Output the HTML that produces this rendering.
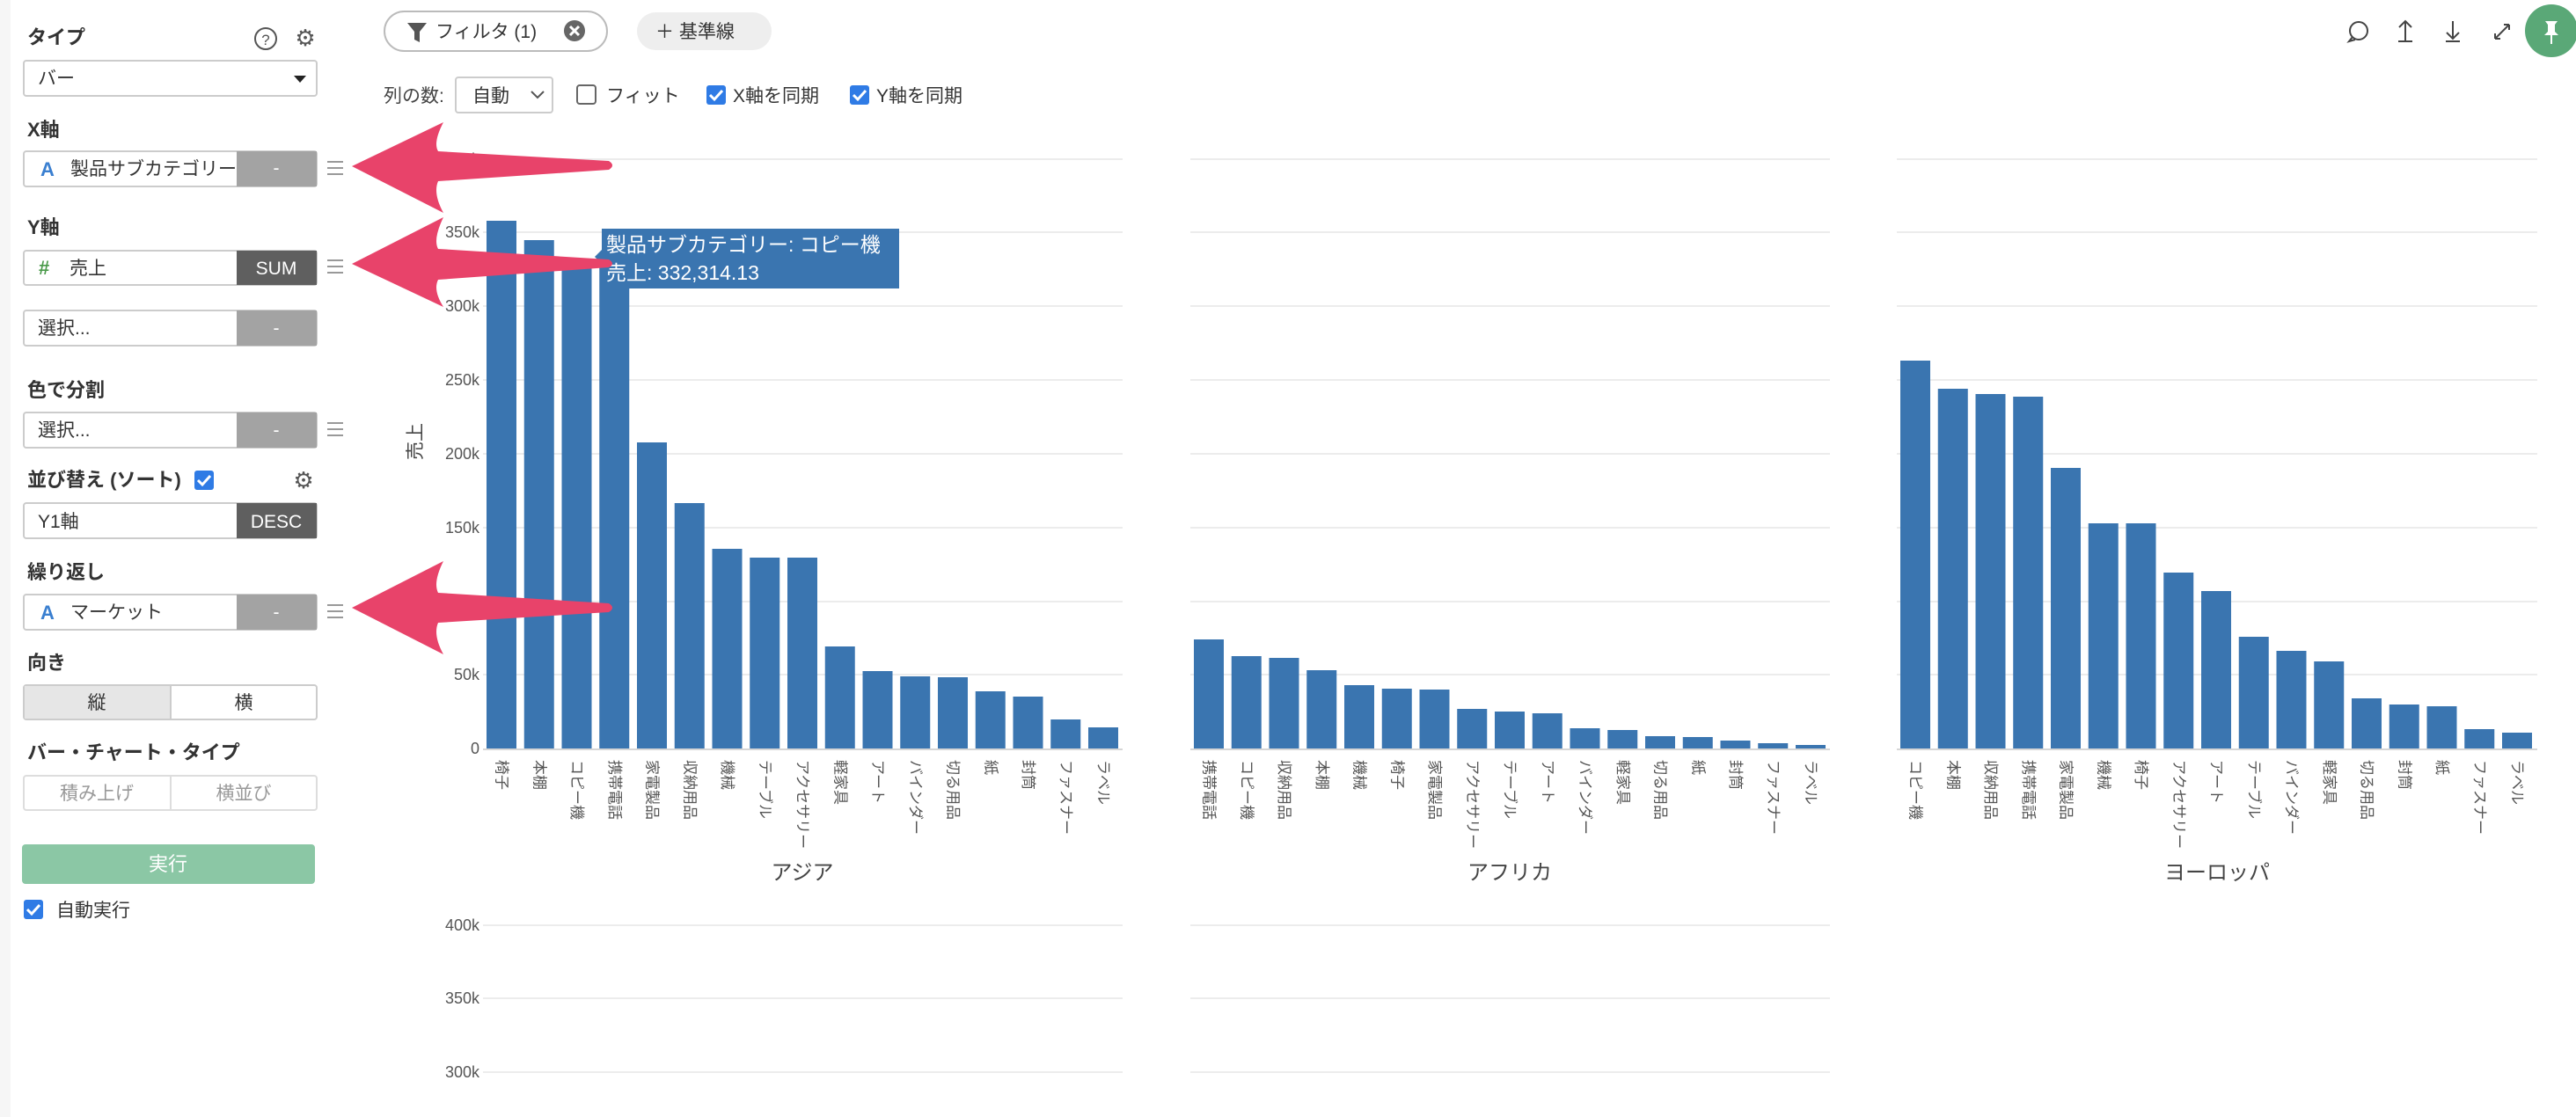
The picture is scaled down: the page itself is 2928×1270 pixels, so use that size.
<!DOCTYPE html>
<html><head><meta charset="utf-8"><style>
html,body{margin:0;padding:0;background:#fff;width:2928px;height:1270px;overflow:hidden}
svg{display:block;font-family:"Liberation Sans","Noto Sans CJK JP",sans-serif}
</style></head><body>
<svg width="2928" height="1270" viewBox="0 0 2928 1270" xmlns="http://www.w3.org/2000/svg">
<defs><clipPath id="cx"><rect x="27" y="172" width="242" height="40"/></clipPath></defs>
<rect x="0" y="0" width="12" height="1270" fill="#f6f6f6"/>
<g font-size="21" fill="#333">
<text x="31" y="50" font-weight="bold" font-size="22">タイプ</text>
<circle cx="302" cy="44" r="12" fill="none" stroke="#555" stroke-width="2"/><text x="302" y="51" font-size="17" text-anchor="middle" fill="#555">?</text>
<text x="347" y="52" font-size="26" text-anchor="middle" fill="#555">⚙</text>
<rect x="27" y="69" width="333" height="40" rx="3" fill="#fff" stroke="#ccc" stroke-width="2"/>
<text x="43" y="96">バー</text><path d="M334 86 L348 86 L341 94 Z" fill="#222"/>
<text x="31" y="155" font-weight="bold" font-size="22">X軸</text>
<rect x="27" y="172" width="333" height="40" rx="3" fill="#fff" stroke="#ccc" stroke-width="2"/>
<text x="46" y="200" fill="#3a7fd0" font-weight="bold" font-size="22">A</text>
<text x="80" y="199" clip-path="url(#cx)">製品サブカテゴリー</text>
<rect x="269" y="172" width="91" height="40" fill="#a3a3a3"/>
<text x="314" y="198" fill="#fff" text-anchor="middle">-</text>
<g stroke="#999" stroke-width="2"><path d="M372 184h18M372 191h18M372 198h18"/></g>
<text x="31" y="266" font-weight="bold" font-size="22">Y軸</text>
<rect x="27" y="285" width="333" height="39" rx="3" fill="#fff" stroke="#ccc" stroke-width="2"/>
<rect x="269" y="285" width="91" height="39" fill="#5f5f5f"/>
<text x="44" y="312" fill="#4a9a4a" font-weight="bold" font-size="22">#</text>
<text x="79" y="312">売上</text>
<text x="314" y="312" fill="#fff" text-anchor="middle">SUM</text>
<g stroke="#999" stroke-width="2"><path d="M372 296h18M372 303h18M372 310h18"/></g>
<rect x="27" y="353" width="333" height="40" rx="3" fill="#fff" stroke="#ccc" stroke-width="2"/>
<rect x="269" y="353" width="91" height="40" fill="#a3a3a3"/>
<text x="43" y="380">選択...</text><text x="314" y="380" fill="#fff" text-anchor="middle">-</text>
<text x="31" y="451" font-weight="bold" font-size="22">色で分割</text>
<rect x="27" y="469" width="333" height="40" rx="3" fill="#fff" stroke="#ccc" stroke-width="2"/>
<rect x="269" y="469" width="91" height="40" fill="#a3a3a3"/>
<text x="43" y="496">選択...</text><text x="314" y="496" fill="#fff" text-anchor="middle">-</text>
<g stroke="#999" stroke-width="2"><path d="M372 481h18M372 488h18M372 495h18"/></g>
<text x="31" y="553" font-weight="bold" font-size="22">並び替え (ソート)</text>
<rect x="221" y="535" width="22" height="22" rx="3" fill="#2f7be5"/><path d="M225 546l5 5 9-10" stroke="#fff" stroke-width="3" fill="none"/>
<text x="345" y="555" font-size="26" text-anchor="middle" fill="#555">⚙</text>
<rect x="27" y="572" width="333" height="40" rx="3" fill="#fff" stroke="#ccc" stroke-width="2"/>
<rect x="269" y="572" width="91" height="40" fill="#5f5f5f"/>
<text x="43" y="600">Y1軸</text><text x="314" y="600" fill="#fff" text-anchor="middle">DESC</text>
<text x="31" y="658" font-weight="bold" font-size="22">繰り返し</text>
<rect x="27" y="676" width="333" height="40" rx="3" fill="#fff" stroke="#ccc" stroke-width="2"/>
<rect x="269" y="676" width="91" height="40" fill="#a3a3a3"/>
<text x="46" y="704" fill="#3a7fd0" font-weight="bold" font-size="22">A</text>
<text x="80" y="703">マーケット</text><text x="314" y="703" fill="#fff" text-anchor="middle">-</text>
<g stroke="#999" stroke-width="2"><path d="M372 688h18M372 695h18M372 702h18"/></g>
<text x="31" y="761" font-weight="bold" font-size="22">向き</text>
<rect x="27" y="779" width="333" height="39" rx="3" fill="#fff" stroke="#ccc" stroke-width="2"/>
<rect x="28" y="780" width="166" height="37" fill="#e6e6e6"/><line x1="194" y1="779" x2="194" y2="818" stroke="#ccc" stroke-width="2"/>
<text x="110" y="806" text-anchor="middle">縦</text><text x="277" y="806" text-anchor="middle">横</text>
<text x="31" y="863" font-weight="bold" font-size="22">バー・チャート・タイプ</text>
<rect x="27" y="882" width="333" height="39" rx="3" fill="#fff" stroke="#ddd" stroke-width="2"/>
<line x1="194" y1="882" x2="194" y2="921" stroke="#ddd" stroke-width="2"/>
<text x="110" y="909" text-anchor="middle" fill="#999">積み上げ</text><text x="277" y="909" text-anchor="middle" fill="#999">横並び</text>
<rect x="25" y="960" width="333" height="45" rx="4" fill="#8bc7a5"/>
<text x="191" y="990" text-anchor="middle" fill="#fff" font-size="22">実行</text>
<rect x="27" y="1023" width="22" height="22" rx="3" fill="#2f7be5"/><path d="M31 1034l5 5 9-10" stroke="#fff" stroke-width="3" fill="none"/>
<text x="64" y="1042">自動実行</text>
</g>
<g font-size="21" fill="#333">
<rect x="437" y="13" width="253" height="45" rx="22.5" fill="#fff" stroke="#bbb" stroke-width="2"/>
<path d="M463 26h22l-8 10v12l-6-3v-9z" fill="#555"/>
<text x="495" y="43">フィルタ (1)</text>
<circle cx="653" cy="35" r="12" fill="#666"/><path d="M648 30l10 10M658 30l-10 10" stroke="#fff" stroke-width="3"/>
<rect x="724" y="14" width="153" height="43" rx="21.5" fill="#eeeeee"/>
<text x="745" y="43">＋ 基準線</text>
<text x="436" y="116" fill="#444">列の数:</text>
<rect x="518" y="88" width="110" height="40" rx="3" fill="#fff" stroke="#ccc" stroke-width="2"/>
<text x="537" y="116">自動</text><path d="M604 104l7 7 7-7" stroke="#555" stroke-width="2" fill="none"/>
<rect x="656" y="97" width="21" height="21" rx="3" fill="#fff" stroke="#666" stroke-width="2"/>
<text x="689" y="116">フィット</text>
<rect x="803" y="97" width="22" height="22" rx="3" fill="#2f7be5"/><path d="M807 108l5 5 9-10" stroke="#fff" stroke-width="3" fill="none"/>
<text x="833" y="116">X軸を同期</text>
<rect x="966" y="97" width="22" height="22" rx="3" fill="#2f7be5"/><path d="M970 108l5 5 9-10" stroke="#fff" stroke-width="3" fill="none"/>
<text x="996" y="116">Y軸を同期</text>
</g>
<g stroke="#444" stroke-width="2" fill="none">
<circle cx="2681" cy="35" r="10"/><path d="M2674 42l-4 5 7-2"/>
<path d="M2734 24v22M2727 31l7-7 7 7M2726 47h16"/>
<path d="M2788 24v20M2781 37l7 7 7-7M2780 47h16"/>
<path d="M2836 44l16-16M2836 44v-6M2836 44h6M2852 28h-6M2852 28v6"/>
</g>
<circle cx="2900" cy="35" r="30" fill="#5aa877"/>
<path d="M2893 24h14l-3 4v8l4 4h-16l4-4v-8z M2899 40h2v10h-2z" fill="#fff"/>
<g stroke="#ececec" stroke-width="2">
<path d="M549 181H1276M549 264H1276M549 348H1276M549 432H1276M549 516H1276M549 600H1276M549 684H1276M549 767H1276"/>
<path d="M1353 181H2080M1353 264H2080M1353 348H2080M1353 432H2080M1353 516H2080M1353 600H2080M1353 684H2080M1353 767H2080"/>
<path d="M2156 181H2884M2156 264H2884M2156 348H2884M2156 432H2884M2156 516H2884M2156 600H2884M2156 684H2884M2156 767H2884"/>
<path d="M549 1052H1276M549 1135H1276M549 1219H1276M1353 1052H2080M1353 1135H2080M1353 1219H2080"/>
</g>
<g stroke="#d6d6d6" stroke-width="2"><path d="M549 852H1276M1353 852H2080M2156 852H2884"/></g>
<g font-size="18" fill="#555" text-anchor="end">
<text x="545" y="187">400k</text><text x="545" y="270">350k</text><text x="545" y="354">300k</text><text x="545" y="438">250k</text><text x="545" y="522">200k</text><text x="545" y="606">150k</text><text x="545" y="690">100k</text><text x="545" y="773">50k</text><text x="545" y="857">0</text>
<text x="545" y="1058">400k</text><text x="545" y="1141">350k</text><text x="545" y="1225">300k</text>
</g>
<text transform="translate(479,502) rotate(-90)" font-size="21" fill="#444" text-anchor="middle">売上</text>
<g fill="#3a75b0">
<rect x="553" y="251" width="34" height="600"/><rect x="595.75" y="273" width="34" height="578"/><rect x="638.5" y="294" width="34" height="557"/><rect x="681.25" y="300" width="34" height="551"/><rect x="724" y="503" width="34" height="348"/><rect x="766.75" y="572" width="34" height="279"/><rect x="809.5" y="624" width="34" height="227"/><rect x="852.25" y="634" width="34" height="217"/><rect x="895" y="634" width="34" height="217"/><rect x="937.75" y="735" width="34" height="116"/><rect x="980.5" y="763" width="34" height="88"/><rect x="1023.25" y="769" width="34" height="82"/><rect x="1066" y="770" width="34" height="81"/><rect x="1108.75" y="786" width="34" height="65"/><rect x="1151.5" y="792" width="34" height="59"/><rect x="1194.25" y="818" width="34" height="33"/><rect x="1237" y="827" width="34" height="24"/>
<rect x="1357" y="727" width="34" height="124"/><rect x="1399.75" y="746" width="34" height="105"/><rect x="1442.5" y="748" width="34" height="103"/><rect x="1485.25" y="762" width="34" height="89"/><rect x="1528" y="779" width="34" height="72"/><rect x="1570.75" y="783" width="34" height="68"/><rect x="1613.5" y="784" width="34" height="67"/><rect x="1656.25" y="806" width="34" height="45"/><rect x="1699" y="809" width="34" height="42"/><rect x="1741.75" y="811" width="34" height="40"/><rect x="1784.5" y="828" width="34" height="23"/><rect x="1827.25" y="830" width="34" height="21"/><rect x="1870" y="837" width="34" height="14"/><rect x="1912.75" y="838" width="34" height="13"/><rect x="1955.5" y="842" width="34" height="9"/><rect x="1998.25" y="845" width="34" height="6"/><rect x="2041" y="847" width="34" height="4"/>
<rect x="2160" y="410" width="34" height="441"/><rect x="2202.75" y="442" width="34" height="409"/><rect x="2245.5" y="448" width="34" height="403"/><rect x="2288.25" y="451" width="34" height="400"/><rect x="2331" y="532" width="34" height="319"/><rect x="2373.75" y="595" width="34" height="256"/><rect x="2416.5" y="595" width="34" height="256"/><rect x="2459.25" y="651" width="34" height="200"/><rect x="2502" y="672" width="34" height="179"/><rect x="2544.75" y="724" width="34" height="127"/><rect x="2587.5" y="740" width="34" height="111"/><rect x="2630.25" y="752" width="34" height="99"/><rect x="2673" y="794" width="34" height="57"/><rect x="2715.75" y="801" width="34" height="50"/><rect x="2758.5" y="803" width="34" height="48"/><rect x="2801.25" y="829" width="34" height="22"/><rect x="2844" y="833" width="34" height="18"/>
</g>
<g font-size="17" fill="#555" dominant-baseline="central">
<text transform="translate(570,864) rotate(90)">椅子</text><text transform="translate(612.75,864) rotate(90)">本棚</text><text transform="translate(655.5,864) rotate(90)">コピー機</text><text transform="translate(698.25,864) rotate(90)">携帯電話</text><text transform="translate(741,864) rotate(90)">家電製品</text><text transform="translate(783.75,864) rotate(90)">収納用品</text><text transform="translate(826.5,864) rotate(90)">機械</text><text transform="translate(869.25,864) rotate(90)">テーブル</text><text transform="translate(912,864) rotate(90)">アクセサリー</text><text transform="translate(954.75,864) rotate(90)">軽家具</text><text transform="translate(997.5,864) rotate(90)">アート</text><text transform="translate(1040.25,864) rotate(90)">バインダー</text><text transform="translate(1083,864) rotate(90)">切る用品</text><text transform="translate(1125.75,864) rotate(90)">紙</text><text transform="translate(1168.5,864) rotate(90)">封筒</text><text transform="translate(1211.25,864) rotate(90)">ファスナー</text><text transform="translate(1254,864) rotate(90)">ラベル</text>
<text transform="translate(1374,864) rotate(90)">携帯電話</text><text transform="translate(1416.75,864) rotate(90)">コピー機</text><text transform="translate(1459.5,864) rotate(90)">収納用品</text><text transform="translate(1502.25,864) rotate(90)">本棚</text><text transform="translate(1545,864) rotate(90)">機械</text><text transform="translate(1587.75,864) rotate(90)">椅子</text><text transform="translate(1630.5,864) rotate(90)">家電製品</text><text transform="translate(1673.25,864) rotate(90)">アクセサリー</text><text transform="translate(1716,864) rotate(90)">テーブル</text><text transform="translate(1758.75,864) rotate(90)">アート</text><text transform="translate(1801.5,864) rotate(90)">バインダー</text><text transform="translate(1844.25,864) rotate(90)">軽家具</text><text transform="translate(1887,864) rotate(90)">切る用品</text><text transform="translate(1929.75,864) rotate(90)">紙</text><text transform="translate(1972.5,864) rotate(90)">封筒</text><text transform="translate(2015.25,864) rotate(90)">ファスナー</text><text transform="translate(2058,864) rotate(90)">ラベル</text>
<text transform="translate(2177,864) rotate(90)">コピー機</text><text transform="translate(2219.75,864) rotate(90)">本棚</text><text transform="translate(2262.5,864) rotate(90)">収納用品</text><text transform="translate(2305.25,864) rotate(90)">携帯電話</text><text transform="translate(2348,864) rotate(90)">家電製品</text><text transform="translate(2390.75,864) rotate(90)">機械</text><text transform="translate(2433.5,864) rotate(90)">椅子</text><text transform="translate(2476.25,864) rotate(90)">アクセサリー</text><text transform="translate(2519,864) rotate(90)">アート</text><text transform="translate(2561.75,864) rotate(90)">テーブル</text><text transform="translate(2604.5,864) rotate(90)">バインダー</text><text transform="translate(2647.25,864) rotate(90)">軽家具</text><text transform="translate(2690,864) rotate(90)">切る用品</text><text transform="translate(2732.75,864) rotate(90)">封筒</text><text transform="translate(2775.5,864) rotate(90)">紙</text><text transform="translate(2818.25,864) rotate(90)">ファスナー</text><text transform="translate(2861,864) rotate(90)">ラベル</text>
</g>
<g font-size="24" fill="#444" text-anchor="middle">
<text x="912" y="1000">アジア</text><text x="1716" y="1000">アフリカ</text><text x="2520" y="1000">ヨーロッパ</text>
</g>
<rect x="684" y="260" width="338" height="68" fill="#3a75b0"/>
<path d="M684 284l-8 8 8 8z" fill="#3a75b0"/>
<g font-size="23" fill="#fff"><text x="689" y="286">製品サブカテゴリー: コピー機</text><text x="689" y="318">売上: 332,314.13</text></g>
<g fill="#e8436a">
<path d="M400 189 L504 139 Q492 162 498 172 L692 183 Q700 188 692 193 L498 206 Q492 220 504 242 Z"/>
<path d="M400 300 L504 247 Q492 272 498 283 L692 295 Q700 300 692 304 L498 318 Q492 330 504 349 Z"/>
<path d="M400 691 L504 638 Q492 662 498 674 L692 686 Q700 691 692 696 L498 708 Q492 722 504 744 Z"/>
</g>
</svg>
</body></html>
